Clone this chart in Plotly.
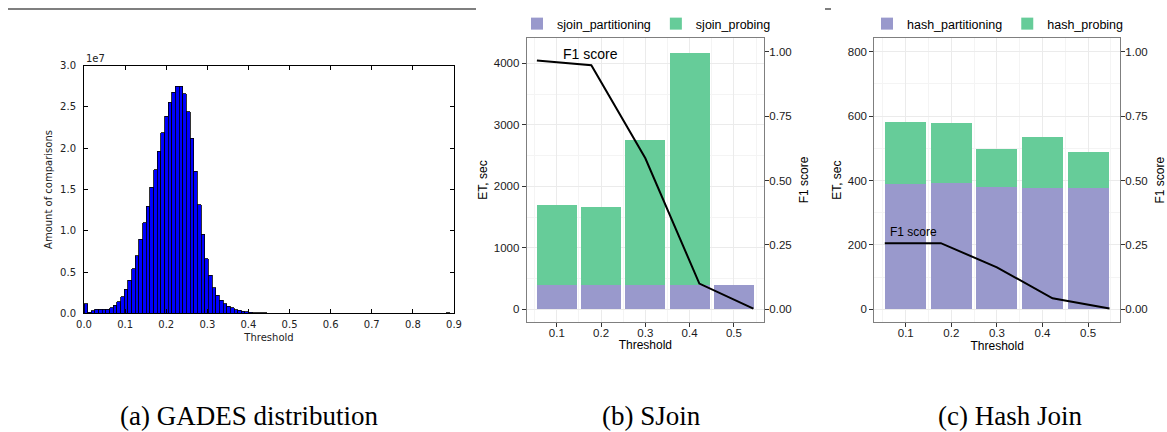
import plotly.graph_objects as go

# ---------------- data ----------------
# (a) GADES distribution histogram (bin counts, first bin starts at 0.0)
hist_bin_start = 0.0
hist_bin_width = 0.0089
hist_counts = [
    1.15e6, 0.12e6, 0.30e6, 0.48e6, 0.52e6, 0.52e6, 0.52e6, 0.70e6, 1.00e6, 1.40e6,
    2.00e6, 2.90e6, 4.00e6, 5.40e6, 7.00e6, 8.95e6, 11.0e6, 13.0e6, 15.25e6, 17.4e6,
    19.65e6, 21.85e6, 23.85e6, 25.6e6, 26.8e6, 27.5e6, 27.5e6, 26.6e6, 24.45e6, 21.2e6,
    17.2e6, 13.15e6, 9.6e6, 6.6e6, 4.6e6, 3.1e6, 2.2e6, 1.6e6, 1.15e6, 0.85e6,
    0.65e6, 0.45e6, 0.35e6, 0.27e6, 0.20e6, 0.12e6, 0.08e6, 0.06e6, 0.05e6, 0.04e6,
    0.035e6, 0.03e6, 0.03e6, 0.028e6, 0.025e6, 0.025e6, 0.022e6, 0.02e6, 0.02e6, 0.018e6,
    0.018e6, 0.016e6, 0.015e6, 0.015e6, 0.014e6, 0.013e6, 0.012e6, 0.012e6, 0.011e6, 0.010e6,
    0.010e6, 0.009e6, 0.009e6, 0.008e6, 0.008e6, 0.007e6, 0.007e6, 0.006e6, 0.006e6, 0.005e6,
    0.005e6, 0.004e6, 0.004e6, None, None, None, None, None, None, None,
    None, None, None, None, None, None, None, None, None, 0.04e6,
]
hist_xticks = [0.0, 0.1, 0.2, 0.3, 0.4, 0.5, 0.6, 0.7, 0.8, 0.9]
hist_xticklabels = ["0.0", "0.1", "0.2", "0.3", "0.4", "0.5", "0.6", "0.7", "0.8", "0.9"]
hist_yticks = [0, 0.5e7, 1.0e7, 1.5e7, 2.0e7, 2.5e7, 3.0e7]
hist_yticklabels = ["0.0", "0.5", "1.0", "1.5", "2.0", "2.5", "3.0"]

# (b) SJoin
thresholds = [0.1, 0.2, 0.3, 0.4, 0.5]
threshold_labels = ["0.1", "0.2", "0.3", "0.4", "0.5"]
sjoin_partitioning = [390, 390, 390, 390, 395]
sjoin_probing = [1305, 1275, 2363, 3783, 0]
sjoin_f1_x = [0.055, 0.178, 0.300, 0.422, 0.544]
sjoin_f1 = [0.966, 0.947, 0.586, 0.100, 0.003]

# (c) Hash Join
hash_partitioning = [390, 392, 380, 378, 378]
hash_probing = [192, 187, 118, 157, 111]
hash_f1_x = [0.054, 0.177, 0.300, 0.422, 0.547]
hash_f1 = [0.257, 0.257, 0.163, 0.043, 0.003]

f1_ticks = [0.0, 0.25, 0.5, 0.75, 1.0]
f1_ticklabels = ["0.00", "0.25", "0.50", "0.75", "1.00"]

PURPLE = "#9999CC"
GREEN = "#66CC99"
GGFONT = "Liberation Sans"
GRID = "#EBEBEB"
MINOR = "#F4F4F4"
BORDER = "#7F7F7F"

W, H = 1167, 432


def px_x(p):
    return p / W


def px_y(p):
    return 1 - p / H


hist_centers = [hist_bin_start + hist_bin_width * (i + 0.5) for i in range(len(hist_counts))]

fig = go.Figure()

# ---- (a) histogram
fig.add_trace(go.Bar(
    x=hist_centers, y=hist_counts, width=hist_bin_width,
    marker=dict(color="#0000FF", line=dict(color="black", width=0.8)),
    xaxis="x", yaxis="y", showlegend=False,
))

# ---- (b) SJoin
fig.add_trace(go.Bar(x=thresholds, y=sjoin_partitioning, width=0.09, name="sjoin_partitioning",
                     marker=dict(color=PURPLE, line=dict(width=0)), xaxis="x2", yaxis="y2",
                     legend="legend"))
fig.add_trace(go.Bar(x=thresholds, y=sjoin_probing, width=0.09, name="sjoin_probing",
                     marker=dict(color=GREEN, line=dict(width=0)), xaxis="x2", yaxis="y2",
                     legend="legend"))
fig.add_trace(go.Scatter(x=sjoin_f1_x, y=sjoin_f1, mode="lines", line=dict(color="black", width=2),
                         xaxis="x2", yaxis="y3", showlegend=False))

# ---- (c) Hash Join
fig.add_trace(go.Bar(x=thresholds, y=hash_partitioning, width=0.09, name="hash_partitioning",
                     marker=dict(color=PURPLE, line=dict(width=0)), xaxis="x3", yaxis="y4",
                     legend="legend2"))
fig.add_trace(go.Bar(x=thresholds, y=hash_probing, width=0.09, name="hash_probing",
                     marker=dict(color=GREEN, line=dict(width=0)), xaxis="x3", yaxis="y4",
                     legend="legend2"))
fig.add_trace(go.Scatter(x=hash_f1_x, y=hash_f1, mode="lines", line=dict(color="black", width=2),
                         xaxis="x3", yaxis="y5", showlegend=False))

mpl_font = dict(family="DejaVu Sans", size=10, color="#222")
gg_tick_font = dict(family=GGFONT, size=11.5, color="#1a1a1a")
gg_title_font = dict(family=GGFONT, size=12, color="black")


def gg_x(domain, anchor, rng):
    return dict(domain=domain, anchor=anchor, range=rng, tickvals=thresholds, ticktext=threshold_labels,
                ticks="outside", ticklen=4, tickcolor="#333", tickfont=gg_tick_font,
                showline=True, linecolor=BORDER, linewidth=1, mirror=True,
                showgrid=True, gridcolor=GRID, gridwidth=1, zeroline=False,
                ticklabelstandoff=-4,
                minor=dict(tickvals=[0.05, 0.15, 0.25, 0.35, 0.45, 0.55], showgrid=True,
                           gridcolor=MINOR, gridwidth=0.6, ticks=""),
                title=dict(text="Threshold", font=gg_title_font, standoff=0))


def gg_y(domain, anchor, rng, ticks, minor):
    return dict(domain=domain, anchor=anchor, range=rng, tickvals=ticks,
                ticks="outside", ticklen=4, tickcolor="#333", tickfont=gg_tick_font,
                showline=True, linecolor=BORDER, linewidth=1, mirror=True,
                showgrid=True, gridcolor=GRID, gridwidth=1, zeroline=False,
                minor=dict(tickvals=minor, showgrid=True, gridcolor=MINOR, gridwidth=0.6, ticks=""),
                title=dict(text="ET, sec", font=gg_title_font, standoff=3))


def gg_y2(overlay, anchor, rng):
    return dict(overlaying=overlay, anchor=anchor, side="right", range=rng,
                tickvals=f1_ticks, ticktext=f1_ticklabels, ticks="outside", ticklen=4,
                tickcolor="#333", tickfont=gg_tick_font, showgrid=False, zeroline=False,
                showline=False, ticklabelstandoff=-2,
                title=dict(text="F1 score", font=gg_title_font, standoff=8))


cap_font = dict(family="Liberation Serif", size=27, color="black")

fig.update_layout(
    width=W, height=H, margin=dict(l=0, r=0, t=0, b=0, autoexpand=False),
    paper_bgcolor="white", plot_bgcolor="white", barmode="stack",
    xaxis=dict(domain=[px_x(84), px_x(454)], anchor="y", range=[0, 0.9],
               tickvals=hist_xticks, ticktext=hist_xticklabels, ticks="inside", ticklen=4,
               tickcolor="black", tickfont=mpl_font, showline=True, linecolor="black",
               linewidth=1, mirror="allticks", showgrid=False, zeroline=False,
               ticklabelstandoff=2,
               title=dict(text="Threshold", font=mpl_font, standoff=4)),
    yaxis=dict(domain=[px_y(313.3), px_y(65.7)], anchor="x", range=[0, 3.0e7],
               tickvals=hist_yticks, ticktext=hist_yticklabels, ticks="inside", ticklen=4,
               tickcolor="black", tickfont=mpl_font, showline=True, linecolor="black",
               linewidth=1, mirror="allticks", showgrid=False, zeroline=False,
               ticklabelstandoff=5,
               title=dict(text="Amount of comparisons", font=mpl_font, standoff=5)),
    xaxis2=gg_x([px_x(526.7), px_x(764)], "y2", [0.032, 0.568]),
    yaxis2=gg_y([px_y(321.7), px_y(38.3)], "x2", [-200.5, 4407],
                [0, 1000, 2000, 3000, 4000], [500, 1500, 2500, 3500]),
    yaxis3=gg_y2("y2", "x2", [-0.0479, 1.0517]),
    xaxis3=gg_x([px_x(874.3), px_x(1120)], "y4", [0.031, 0.570]),
    yaxis4=gg_y([px_y(322), px_y(38.3)], "x3", [-39.3, 841.6],
                [0, 200, 400, 600, 800], [100, 300, 500, 700]),
    yaxis5=gg_y2("y4", "x3", [-0.049, 1.052]),
    legend=dict(orientation="h", x=px_x(646.5), xanchor="center", y=px_y(24), yanchor="middle",
                font=dict(family=GGFONT, size=12.5, color="black"), itemwidth=30,
                traceorder="normal", bgcolor="rgba(0,0,0,0)"),
    legend2=dict(orientation="h", x=px_x(998), xanchor="center", y=px_y(24), yanchor="middle",
                 font=dict(family=GGFONT, size=12.5, color="black"), itemwidth=30,
                 traceorder="normal", bgcolor="rgba(0,0,0,0)"),
    shapes=[
        dict(type="line", xref="paper", yref="paper", x0=px_x(8), x1=px_x(476),
             y0=px_y(9), y1=px_y(9), line=dict(color="#555", width=1.5)),
        dict(type="line", xref="paper", yref="paper", x0=px_x(825), x1=px_x(831),
             y0=px_y(9), y1=px_y(9), line=dict(color="#555", width=1.5)),
    ],
    annotations=[
        dict(text="1e7", xref="paper", yref="paper", x=px_x(84), y=px_y(65.7), xanchor="left",
             yanchor="bottom", showarrow=False, font=mpl_font),
        dict(text="F1 score", xref="x2", yref="y3", x=0.176, y=0.991, showarrow=False,
             xanchor="center", yanchor="middle",
             font=dict(family=GGFONT, size=14, color="black")),
        dict(text="F1 score", xref="x3", yref="y5", x=0.116, y=0.301, showarrow=False,
             xanchor="center", yanchor="middle",
             font=dict(family=GGFONT, size=12, color="black")),
        dict(text="(a) GADES distribution", xref="paper", yref="paper", x=px_x(249), y=px_y(416),
             xanchor="center", yanchor="middle", showarrow=False, font=cap_font),
        dict(text="(b) SJoin", xref="paper", yref="paper", x=px_x(651), y=px_y(416),
             xanchor="center", yanchor="middle", showarrow=False, font=cap_font),
        dict(text="(c) Hash Join", xref="paper", yref="paper", x=px_x(1010), y=px_y(416),
             xanchor="center", yanchor="middle", showarrow=False, font=cap_font),
    ],
)

fig.write_html("out.html", config={"displayModeBar": False},
               post_script="document.body.style.margin='0';")
